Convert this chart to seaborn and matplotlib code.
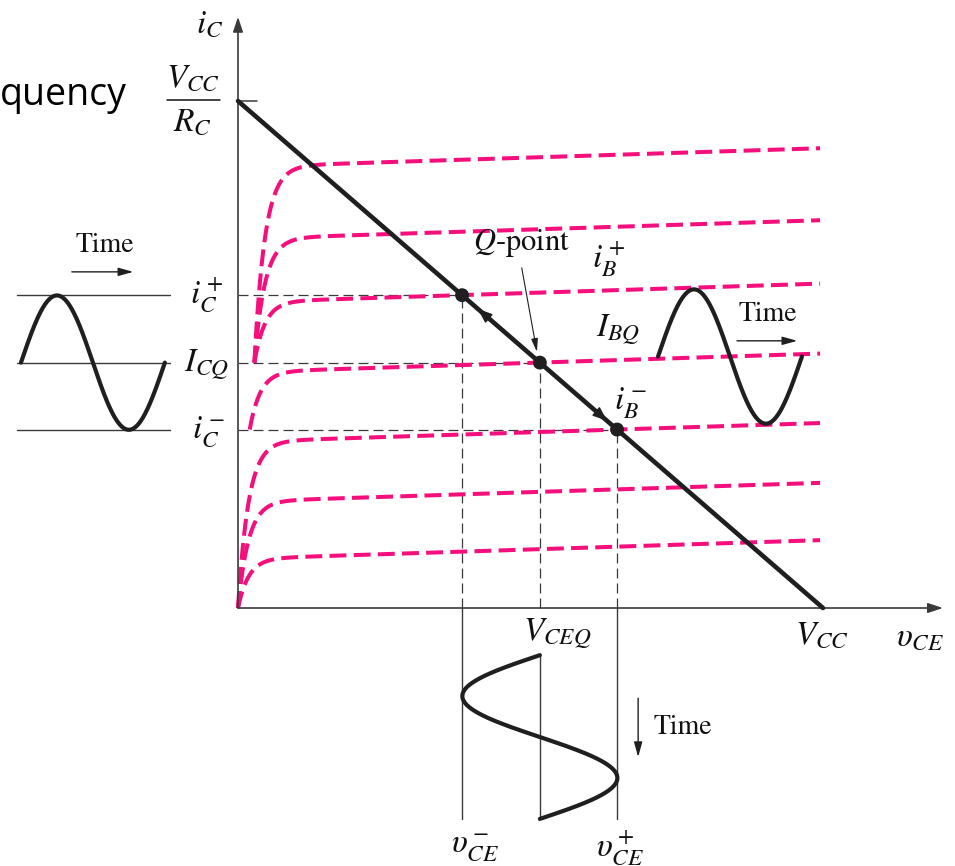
import numpy as np
import pandas as pd
import matplotlib
matplotlib.use("Agg")
import matplotlib.pyplot as plt
import seaborn as sns

# ---- circuit quantities (normalised: V_CC = 10 V, V_CC / R_C = 10 mA) ----
vcc = 10.0
ic_max = 10.0

# operating points on the load line: upper swing, Q-point, lower swing
q_vce = [3.83, 5.16, 6.48]
q_ic = [6.17, 4.84, 3.52]

# collector characteristics: flat-region intercept of each curve,
# common output slope, and the point each drawn curve starts from
curve_level = [8.70, 7.28, 6.03, 4.65, 3.28, 2.10, 0.97]
curve_slope = 0.037
curve_start_v = [0.28, 0.28, 0.28, 0.20, 0.0, 0.0, 0.0]
curve_start_i = [4.84, 4.84, 4.84, 3.52, 0.0, 0.0, 0.0]
curve_knee = 0.18
curve_end_v = 9.95

# waveform placement (time axes of the three sketches)
left_wave_v = (-3.71, -1.25)
right_wave_v = (7.18, 9.64)
right_wave_mid = 4.96
bottom_wave_i = (-0.93, -4.16)

PINK = "#F50F7D"
INK = "#1f1f1f"
GUIDE = "#3a3a3a"

sns.set_style("white")
plt.rcParams["mathtext.fontset"] = "stix"
SERIF = "STIXGeneral"

# figure geometry: origin of the i_C / v_CE plane and its scale
W, H = 955, 866
ox, oy = 238, 608
sx, sy = 58.5, 50.7

fig = plt.figure(figsize=(W / 100, H / 100), dpi=100)
ax = fig.add_axes([0, 0, 1, 1])
ax.set_xlim(-ox / sx, (W - ox) / sx)
ax.set_ylim(-(H - oy) / sy, oy / sy)
ax.axis("off")

# ---- collector characteristic curves ----
rows = []
for k, (lvl, v0, i0) in enumerate(zip(curve_level, curve_start_v, curve_start_i)):
    v = np.concatenate([np.linspace(v0, v0 + 1.2, 240), np.linspace(v0 + 1.2, curve_end_v, 60)[1:]])
    flat = lvl + curve_slope * v
    i = flat + (i0 - flat) * np.exp(-(v - v0) / curve_knee)
    rows.append(pd.DataFrame({"v": v, "i": i, "curve": k}))
curves = pd.concat(rows, ignore_index=True)
sns.lineplot(data=curves, x="v", y="i", units="curve", estimator=None, sort=False,
             color=PINK, lw=2.9, linestyle=(0, (4.2, 1.8)), ax=ax, zorder=2, legend=False)

# ---- axes with arrows ----
ax.annotate("", xy=(0, 11.66), xytext=(0, 0),
            arrowprops=dict(arrowstyle="-|>,head_length=0.9,head_width=0.3", color=GUIDE, lw=1.2,
                            shrinkA=0, shrinkB=0))
ax.annotate("", xy=(12.05, 0), xytext=(0, 0),
            arrowprops=dict(arrowstyle="-|>,head_length=0.9,head_width=0.3", color=GUIDE, lw=1.2,
                            shrinkA=0, shrinkB=0))
ax.plot([0, 0.33], [ic_max, ic_max], color=GUIDE, lw=1.1)

# ---- load line and operating points ----
sns.lineplot(x=[0, vcc], y=[ic_max, 0], color=INK, lw=3.3, ax=ax, zorder=3, estimator=None)
sns.scatterplot(x=q_vce, y=q_ic, s=100, color=INK, edgecolor="none", ax=ax, zorder=5)

# dashed projections onto both axes
for qv, qi in zip(q_vce, q_ic):
    ax.plot([0, qv], [qi, qi], color=GUIDE, lw=0.9, linestyle=(0, (8, 4)), zorder=1)
    ax.plot([qv, qv], [0, qi], color=GUIDE, lw=0.9, linestyle=(0, (8, 4)), zorder=1)

# direction of travel along the load line
for tip, tail in [(4.10, 4.45), (6.31, 5.95)]:
    ax.annotate("", xy=(tip, ic_max * (1 - tip / vcc)), xytext=(tail, ic_max * (1 - tail / vcc)),
                arrowprops=dict(arrowstyle="-|>,head_length=0.9,head_width=0.35", color=INK, lw=1.0,
                                shrinkA=0, shrinkB=0), zorder=4)

t = np.linspace(0, 1, 400)
d_ic = (q_ic[0] - q_ic[2]) / 2
d_vce = (q_vce[2] - q_vce[0]) / 2

# ---- collector-current waveform (left) ----
for lvl in q_ic:
    ax.plot([-3.78, -1.16], [lvl, lvl], color=GUIDE, lw=1.0)
sns.lineplot(x=left_wave_v[0] + t * (left_wave_v[1] - left_wave_v[0]),
             y=q_ic[1] + d_ic * np.sin(2 * np.pi * t), sort=False, estimator=None,
             color=INK, lw=3.0, ax=ax)

# ---- base-current waveform (right) ----
sns.lineplot(x=right_wave_v[0] + t * (right_wave_v[1] - right_wave_v[0]),
             y=right_wave_mid + d_ic * np.sin(2 * np.pi * t), sort=False, estimator=None,
             color=INK, lw=3.0, ax=ax, zorder=4)

# ---- collector-emitter voltage waveform (bottom) ----
for qv in (q_vce[0], q_vce[2]):
    ax.plot([qv, qv], [0, bottom_wave_i[1]], color=GUIDE, lw=1.0)
ax.plot([q_vce[1], q_vce[1]], [bottom_wave_i[0], bottom_wave_i[1]], color=GUIDE, lw=1.0)
sns.lineplot(x=q_vce[1] - d_vce * np.sin(2 * np.pi * t),
             y=bottom_wave_i[0] + t * (bottom_wave_i[1] - bottom_wave_i[0]),
             sort=False, estimator=None, orient="y", color=INK, lw=3.0, ax=ax)

# ---- time arrows ----
arrow_kw = dict(arrowstyle="-|>,head_length=0.9,head_width=0.25", color=INK, lw=1.0, shrinkA=0, shrinkB=0)
ax.annotate("", xy=(-1.79, 6.63), xytext=(-2.84, 6.63), arrowprops=arrow_kw)
ax.annotate("", xy=(9.56, 5.27), xytext=(8.53, 5.27), arrowprops=arrow_kw)
ax.annotate("", xy=(6.84, -2.94), xytext=(6.84, -1.78), arrowprops=arrow_kw)
ax.annotate("", xy=(5.11, 5.05), xytext=(4.85, 6.71),
            arrowprops=dict(arrowstyle="-|>,head_length=0.8,head_width=0.2", color=INK, lw=0.8,
                            shrinkA=0, shrinkB=0))

# ---- labels ----
MS = 24
def lab(x, y, s, size=MS, **kw):
    ax.text(x, y, s, fontsize=size, fontfamily=SERIF, ha="center", va="center", color="#111", **kw)

lab(-0.48, 11.50, r"$i_C$")
lab(-0.77, 10.45, r"$V_{CC}$")
ax.plot([-1.21, -0.31], [10.02, 10.02], color="#111", lw=1.1)
lab(-0.77, 9.58, r"$R_C$")
lab(-0.53, q_ic[0], r"$i_C^+$")
lab(-0.53, q_ic[1] - 0.05, r"$I_{CQ}$")
lab(-0.51, q_ic[2] - 0.05, r"$i_C^-$")
lab(-2.27, 7.16, "Time", size=20)
lab(4.84, 7.20, r"$Q$-point", size=22)
lab(6.34, 6.86, r"$i_B^+$")
lab(6.50, 5.48, r"$I_{BQ}$")
lab(6.70, 4.06, r"$i_B^-$")
lab(9.06, 5.80, "Time", size=20)
lab(5.45, -0.51, r"$V_{CEQ}$")
lab(9.98, -0.55, r"$V_{CC}$")
lab(11.66, -0.59, r"$\upsilon_{CE}$")
lab(4.05, -4.73, r"$\upsilon_{CE}^-$")
lab(6.53, -4.73, r"$\upsilon_{CE}^+$")
lab(7.61, -2.35, "Time", size=20)

ax.text(-ox / sx, 9.92, "quency", fontsize=27, fontfamily="Open Sans", ha="left", va="baseline",
        color="black")

fig.savefig("out.png", dpi=100)
